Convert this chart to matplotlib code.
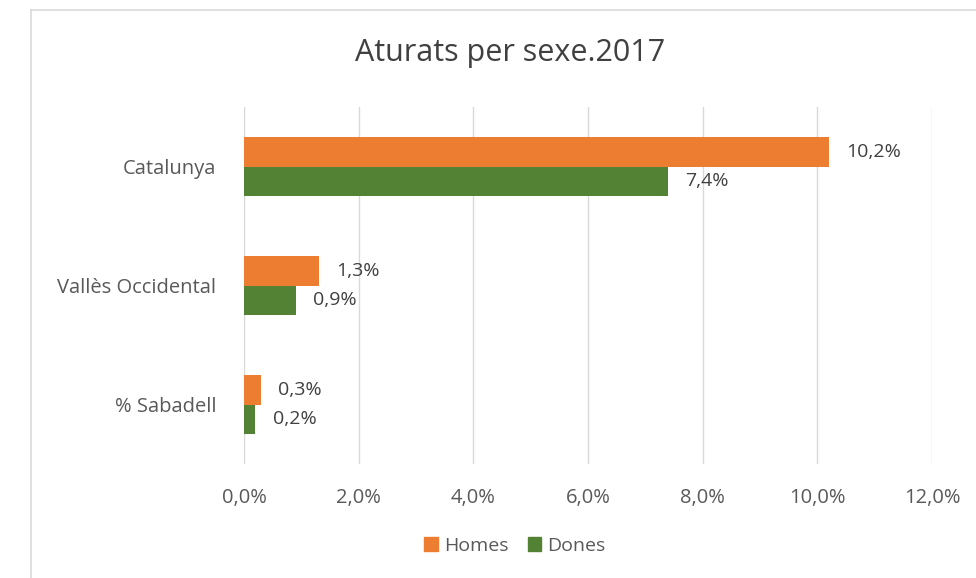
import matplotlib
matplotlib.use("Agg")
import matplotlib.pyplot as plt
from matplotlib.lines import Line2D
from matplotlib.patches import Patch
import numpy as np

plt.rcParams['font.family'] = ['Open Sans', 'DejaVu Sans']

categories = ["Catalunya", "Vallès Occidental", "% Sabadell"]
homes = [10.2, 1.3, 0.3]
dones = [7.4, 0.9, 0.2]
xticks = [0, 2, 4, 6, 8, 10, 12]
title = "Aturats per sexe.2017"

c_homes = "#ED7D31"
c_dones = "#548235"
text_c = "#595959"

fig = plt.figure(figsize=(9.76, 5.78), dpi=100)
W, H = 976, 578

# outer chart frame (top and left edges visible)
fig.add_artist(Line2D([31 / W, 31 / W], [0, 1 - 10 / H], color="#D9D9D9", lw=1.2, transform=fig.transFigure))
fig.add_artist(Line2D([31 / W, 1], [1 - 10 / H, 1 - 10 / H], color="#D9D9D9", lw=1.2, transform=fig.transFigure))

ax = fig.add_axes([244 / W, 1 - 464 / H, (932 - 244) / W, (464 - 107) / H])

y = np.arange(len(categories))
h = 0.25
ax.barh(y - h / 2, homes, height=h, color=c_homes, zorder=3, label="Homes")
ax.barh(y + h / 2, dones, height=h, color=c_dones, zorder=3, label="Dones")

for yi, v in zip(y, homes):
    ax.text(v + 0.3, yi - h / 2, f"{v:.1f}%".replace(".", ","), va="center", ha="left",
            fontsize=14, color="#404040")
for yi, v in zip(y, dones):
    ax.text(v + 0.3, yi + h / 2, f"{v:.1f}%".replace(".", ","), va="center", ha="left",
            fontsize=14, color="#404040")

ax.set_ylim(len(categories) - 0.5, -0.5)
ax.set_xlim(0, 12)
ax.set_yticks(y)
ax.set_yticklabels(categories, fontsize=14.5, color=text_c)
ax.set_xticks(xticks)
ax.set_xticklabels([f"{t:.1f}%".replace(".", ",") for t in xticks], fontsize=14.5, color=text_c)
ax.tick_params(axis="both", length=0)
ax.tick_params(axis="x", pad=17)
ax.tick_params(axis="y", pad=20)
ax.grid(axis="x", color="#D9D9D9", lw=1, zorder=0)
for s in ax.spines.values():
    s.set_visible(False)

fig.text(510 / W, 1 - 53 / H, title, ha="center", va="center", fontsize=22, color="#404040")

handles = [Patch(color=c_homes, label="Homes"), Patch(color=c_dones, label="Dones")]
fig.legend(handles=handles, loc="center", bbox_to_anchor=(515 / W, 1 - 546 / H), ncol=2,
           frameon=False, fontsize=14, handlelength=0.7, handleheight=0.7,
           handletextpad=0.3, columnspacing=1.0, labelcolor=text_c)

fig.savefig("out.png", dpi=100)
